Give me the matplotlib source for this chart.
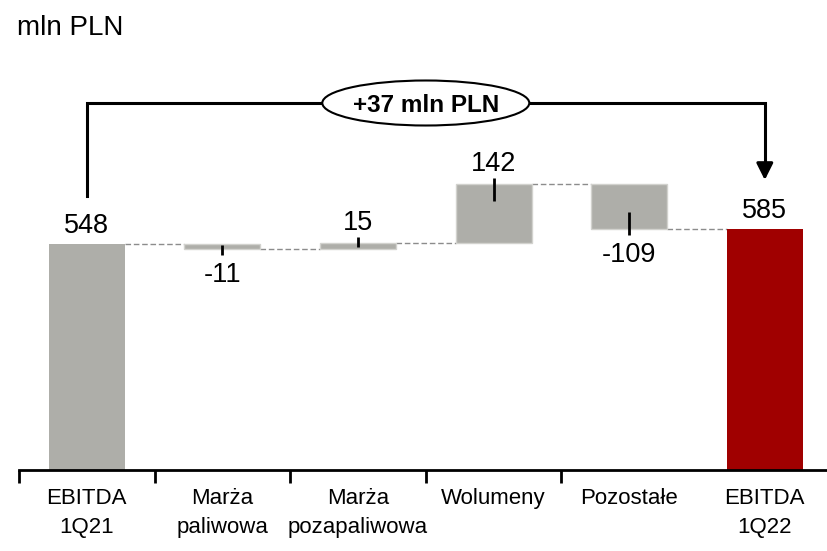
import matplotlib
matplotlib.use("Agg")
import matplotlib.pyplot as plt
from matplotlib.patches import Ellipse

# ---- data ----
categories = ["EBITDA\n1Q21", "Marża\npaliwowa", "Marża\npozapaliwowa", "Wolumeny", "Pozostałe", "EBITDA\n1Q22"]
start_value = 548
deltas = [-11, 15, 142, -109]
end_value = 585
unit_label = "mln PLN"

FONT = "Liberation Sans"
GRAY = "#AEAEA9"
RED = "#A00000"
PX = 72 / 100  # points per pixel at dpi 100

fig = plt.figure(figsize=(8.27, 5.51), dpi=100)
ax = fig.add_axes([19 / 827, 81 / 551, 808 / 827, 470 / 551])
px_per_unit = 0.412
ax.set_ylim(0, 470 / px_per_unit)
ax.set_xlim(-0.5, -0.5 + 808 / 135.6)

bw = 0.56
n = len(categories)
xs = list(range(n))

# running totals
bottoms, heights = [], []
running = start_value
levels = [start_value]
for d in deltas:
    bottoms.append(min(running, running + d))
    heights.append(abs(d))
    running += d
    levels.append(running)

# totals
ax.bar(xs[0], start_value, width=bw, color=GRAY, edgecolor="none", zorder=2)
ax.bar(xs[-1], end_value, width=bw, color=RED, edgecolor="none", zorder=2)
# deltas
ax.bar(xs[1:-1], heights, bottom=bottoms, width=bw, color=GRAY,
       edgecolor="#D2D2CE", linewidth=1, zorder=2)

# connectors
for i, lvl in enumerate(levels):
    ax.plot([xs[i] + bw / 2, xs[i + 1] - bw / 2], [lvl, lvl], color="#8C8C8C",
            lw=1, ls=(0, (4, 2)), zorder=1)

val_fs = 19.5
# total labels
for x, v in ((xs[0], start_value), (xs[-1], end_value)):
    ax.annotate(f"{v}", (x, v), xytext=(0, 11 * PX), textcoords="offset points",
                ha="center", va="baseline", fontsize=val_fs, family=FONT)

# delta labels + leader ticks
out_px, gap_px = 6, 7
prev = start_value
for i, d in enumerate(deltas):
    x = xs[i + 1]
    h_px = abs(d) * px_per_unit
    inn_px = min(17, h_px * 0.75)
    edge = prev + d
    if d >= 0:
        y0 = edge - inn_px / px_per_unit
        y1 = edge + out_px / px_per_unit
        ax.plot([x, x], [y0, y1], color="black", lw=2, zorder=3, solid_capstyle="butt")
        ax.annotate(f"{d}", (x, y1), xytext=(0, gap_px * PX), textcoords="offset points",
                    ha="center", va="baseline", fontsize=val_fs, family=FONT)
    else:
        y0 = edge + inn_px / px_per_unit
        y1 = edge - out_px / px_per_unit
        ax.plot([x, x], [y0, y1], color="black", lw=2, zorder=3, solid_capstyle="butt")
        ax.annotate(f"{d}", (x, y1), xytext=(0, -gap_px * PX), textcoords="offset points",
                    ha="center", va="top", fontsize=val_fs, family=FONT)
    prev += d

# bracket
y_br = (470 - 103) / px_per_unit
y_left = (470 - 196) / px_per_unit
y_tip = (470 - 180) / px_per_unit
xm = (xs[0] + xs[-1]) / 2
ew, eh = 207 / 135.6, 45 / px_per_unit
ax.plot([xs[0], xs[0], xm - ew / 2], [y_left, y_br, y_br], color="black", lw=2.2,
        clip_on=False, zorder=4, solid_joinstyle="miter")
ax.plot([xm + ew / 2, xs[-1], xs[-1]], [y_br, y_br, y_tip + 15 / px_per_unit], color="black",
        lw=2.2, clip_on=False, zorder=4, solid_joinstyle="miter")
ax.annotate("", xy=(xs[-1], y_tip), xytext=(xs[-1], y_tip + 16 / px_per_unit),
            arrowprops=dict(arrowstyle="-|>,head_length=1.0,head_width=0.5",
                            color="black", lw=2.2, shrinkA=0, shrinkB=0), zorder=4)
ax.add_patch(Ellipse((xm, y_br), ew, eh, facecolor="white", edgecolor="black",
                     lw=1.5, zorder=5, clip_on=False))
diff = end_value - start_value
ax.text(xm, y_br, f"{diff:+d} {unit_label}", ha="center", va="center_baseline",
        fontsize=17.5, fontweight="bold", family=FONT, zorder=6)

# unit label
fig.text(17 / 827, 1 - 28 / 551, unit_label, ha="left", va="center",
         fontsize=20, family=FONT)

# axes styling
for s in ("top", "right", "left"):
    ax.spines[s].set_visible(False)
ax.spines["bottom"].set_linewidth(2)
ax.set_yticks([])
ax.set_xticks(xs)
ax.set_xticklabels(categories, fontsize=16, family=FONT, linespacing=1.5)
ax.tick_params(axis="x", which="major", length=0, pad=13)
ax.set_xticks([x - 0.5 for x in xs[:-1]], minor=True)
ax.tick_params(axis="x", which="minor", length=9, width=2, direction="out")

fig.savefig("out.png", dpi=100)
